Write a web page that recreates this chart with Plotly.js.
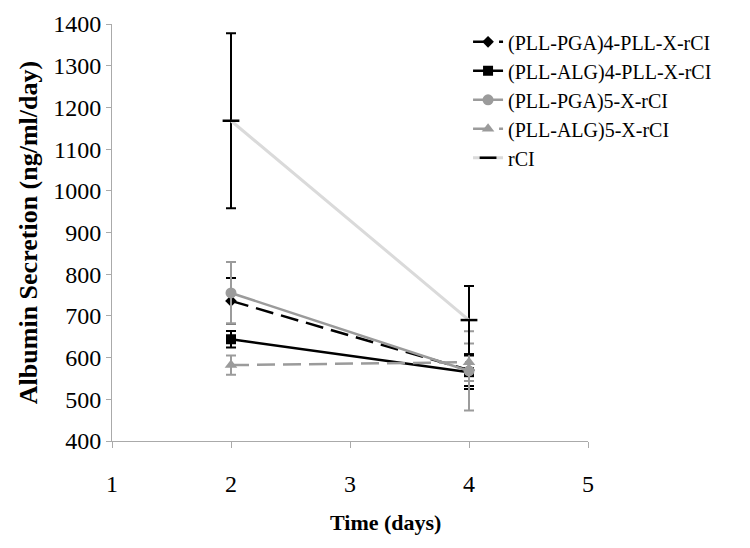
<!DOCTYPE html>
<html>
<head>
<meta charset="utf-8">
<script src="https://cdn.plot.ly/plotly-3.0.1.min.js"></script>
<style>html,body{margin:0;padding:0;background:#fff;}#chart{width:750px;height:548px;}</style>
</head>
<body>
<div id="chart"></div>
<script>
const days = [2, 4];
const seriesNames = ["(PLL-PGA)4-PLL-X-rCI", "(PLL-ALG)4-PLL-X-rCI", "(PLL-PGA)5-X-rCI", "(PLL-ALG)5-X-rCI", "rCI"];
const pga4Mean = [736, 570];
const pga4Err = [55, 38];
const alg4Mean = [644, 565];
const alg4Err = [20, 40];
const pga5Mean = [755, 568];
const pga5Err = [74, 95];
const alg5Mean = [582, 589];
const alg5Err = [23, 45];
const rciMean = [1168, 690];
const rciErr = [210, 82];
const yTicks = [400, 500, 600, 700, 800, 900, 1000, 1100, 1200, 1300, 1400];
const xTicks = [1, 2, 3, 4, 5];
const xTitle = "Time (days)";
const yTitle = "Albumin Secretion (ng/ml/day)";

const FONT = "Liberation Serif, Times New Roman, serif";
const BLACK = "#000000";
const GRAY = "#9b9b9b";
const LIGHT = "#dadada";

function tr(name, y, err, color, dash, symbol, msize, errColor) {
  return {
    type: "scatter", mode: "lines+markers", name: name,
    x: days, y: y,
    line: {color: color, width: 2.5, dash: dash},
    marker: {symbol: symbol, size: msize, color: color},
    error_y: {type: "data", array: err, visible: true, color: errColor || color, thickness: 2, width: 5}
  };
}

const data = [
  tr(seriesNames[0], pga4Mean, pga4Err, BLACK, "18px,8px", "diamond", 9),
  tr(seriesNames[1], alg4Mean, alg4Err, BLACK, "solid", "square", 10),
  tr(seriesNames[2], pga5Mean, pga5Err, GRAY, "solid", "circle", 11),
  tr(seriesNames[3], alg5Mean, alg5Err, GRAY, "18px,8px", "triangle-up", 11),
  {
    type: "scatter", mode: "lines+markers", name: seriesNames[4],
    x: days, y: rciMean,
    line: {color: LIGHT, width: 3},
    marker: {symbol: "line-ew", size: 12, color: BLACK, line: {color: BLACK, width: 2.5}},
    error_y: {type: "data", array: rciErr, visible: true, color: BLACK, thickness: 2, width: 5}
  }
];

const layout = {
  width: 750, height: 548,
  margin: {l: 112, r: 162, t: 24, b: 107},
  paper_bgcolor: "#fff", plot_bgcolor: "#fff",
  font: {family: FONT, color: "#000", size: 20},
  showlegend: true,
  legend: {
    x: 0.748, y: 1.004, xanchor: "left", yanchor: "top",
    font: {family: FONT, size: 20, color: "#000"},
    bgcolor: "rgba(0,0,0,0)"
  },
  xaxis: {
    range: [1, 5], tickvals: xTicks, ticktext: xTicks.map(String),
    showgrid: false, zeroline: false,
    showline: true, linecolor: "#aaaaaa", linewidth: 1,
    ticks: "outside", ticklen: 6, tickcolor: "#aaaaaa",
    ticklabelstandoff: 15,
    tickfont: {family: FONT, size: 24, color: "#000"}
  },
  yaxis: {
    range: [400, 1400], tickvals: yTicks, ticktext: yTicks.map(String),
    showgrid: false, zeroline: false,
    showline: true, linecolor: "#aaaaaa", linewidth: 1,
    ticks: "outside", ticklen: 5, tickcolor: "#aaaaaa",
    tickfont: {family: FONT, size: 24, color: "#000"},
    title: {text: "<b>" + yTitle + "</b>", font: {family: FONT, size: 26, color: "#000"}, standoff: 8}
  },
  annotations: [{
    text: "<b>" + xTitle + "</b>", xref: "paper", yref: "paper",
    x: (385 - 112) / 476, y: -(522 - 441) / 417, xanchor: "center", yanchor: "middle",
    showarrow: false, font: {family: FONT, size: 22, color: "#000"}
  }]
};

Plotly.newPlot("chart", data, layout, {displayModeBar: false, staticPlot: true});
</script>
</body>
</html>
